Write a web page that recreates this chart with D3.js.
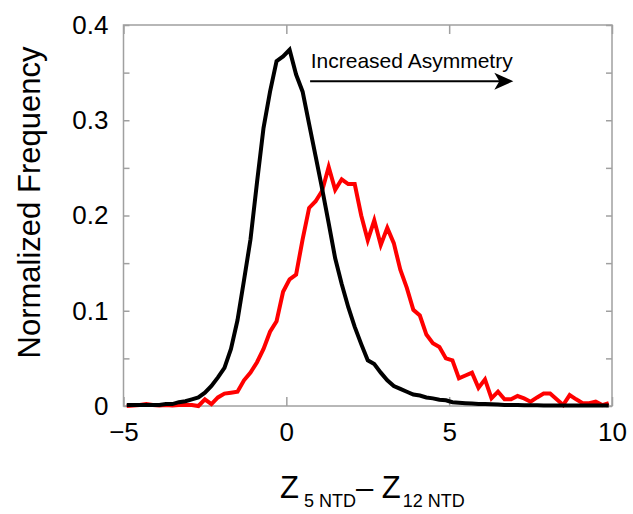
<!DOCTYPE html>
<html>
<head>
<meta charset="utf-8">
<script src="https://cdn.jsdelivr.net/npm/d3@7"></script>
<style>
  html, body { margin: 0; padding: 0; background: #fff; }
  svg { display: block; font-family: "Liberation Sans", Arial, sans-serif; }
</style>
</head>
<body>
<svg id="chart" width="633" height="514"></svg>
<script>
// ---- data ----
const binCenters = [-4.9,-4.7,-4.5,-4.3,-4.1,-3.9,-3.7,-3.5,-3.3,-3.1,-2.9,-2.7,-2.5,-2.3,-2.1,-1.9,-1.7,-1.5,-1.3,-1.1,
  -0.9,-0.7,-0.5,-0.3,-0.1,0.1,0.3,0.5,0.7,0.9,1.1,1.3,1.5,1.7,1.9,2.1,2.3,2.5,2.7,2.9,
  3.1,3.3,3.5,3.7,3.9,4.1,4.3,4.5,4.7,4.9,5.1,5.3,5.5,5.7,5.9,6.1,6.3,6.5,6.7,6.9,
  7.1,7.3,7.5,7.7,7.9,8.1,8.3,8.5,8.7,8.9,9.1,9.3,9.5,9.7,9.9];
const blackSeries = [0.001,0.001,0.001,0.001,0.001,0.001,0.002,0.002,0.004,0.005,0.007,0.009,0.014,0.021,0.030,0.040,0.060,0.090,0.132,0.175,
  0.235,0.292,0.330,0.362,0.367,0.374,0.348,0.330,0.296,0.262,0.228,0.192,0.155,0.128,0.104,0.083,0.065,0.048,0.044,0.035,
  0.027,0.021,0.018,0.015,0.012,0.011,0.009,0.008,0.0065,0.006,0.004,0.0035,0.003,0.0025,0.002,0.002,0.0018,0.0015,0.001,0.001,
  0.001,0.0008,0.0008,0.0007,0.0006,0.0006,0.0005,0.0005,0.0005,0.0005,0.0005,0.0005,0.0005,0.0005,0.0005];
const redSeries = [0.000,0.0005,0.001,0.002,0.001,0.0005,0.001,0.0005,0.001,0.001,0.001,0.000,0.007,0.002,0.009,0.013,0.014,0.015,0.027,0.035,
  0.046,0.060,0.078,0.089,0.120,0.133,0.138,0.175,0.208,0.215,0.226,0.251,0.227,0.238,0.233,0.233,0.200,0.174,0.195,0.169,
  0.187,0.171,0.143,0.124,0.101,0.095,0.075,0.066,0.062,0.050,0.048,0.029,0.032,0.035,0.019,0.028,0.008,0.015,0.007,0.007,
  0.0105,0.008,0.0045,0.009,0.013,0.013,0.007,0.001,0.0115,0.007,0.003,0.003,0.0045,0.001,0.003];
const xTickValues = [-5, 0, 5, 10];
const xTickLabels = ["\u22125", "0", "5", "10"];
const yTickValues = [0, 0.05, 0.1, 0.15, 0.2, 0.25, 0.3, 0.35, 0.4];
const yTickLabels = ["0", "", "0.1", "", "0.2", "", "0.3", "", "0.4"];
const annotationText = "Increased Asymmetry";
const annotationArrow = [0.73, 6.97, 0.341]; // x start, x end, y (data units)
const annotationTextPos = [0.75, 0.355];

// ---- layout ----
const svg = d3.select("#chart");
const margin = {left: 123.5, right: 21, top: 25, bottom: 108};
const W = 633, H = 514;
const x = d3.scaleLinear().domain([-5, 10]).range([margin.left, W - margin.right]);
const y = d3.scaleLinear().domain([0, 0.4]).range([H - margin.bottom, margin.top]);
const axisColor = "#a0a0a0";
const fontTick = 26;

// frame
svg.append("rect")
  .attr("x", x(-5)).attr("y", y(0.4))
  .attr("width", x(10) - x(-5)).attr("height", y(0) - y(0.4))
  .attr("fill", "none").attr("stroke", axisColor).attr("stroke-width", 1.5);

function styleAxis(g) {
  g.select(".domain").remove();
  g.selectAll(".tick line").attr("stroke", axisColor).attr("stroke-width", 1.5);
  g.selectAll(".tick text").attr("fill", "#000").attr("font-size", fontTick)
    .attr("font-family", "'Liberation Sans', Arial, sans-serif");
}

// bottom axis
svg.append("g").attr("transform", `translate(0,${y(0)})`)
  .call(d3.axisBottom(x).tickValues(xTickValues).tickSizeInner(-9).tickSizeOuter(0).tickPadding(17)
    .tickFormat((d, i) => xTickLabels[i]))
  .call(styleAxis);
// top axis (ticks only)
svg.append("g").attr("transform", `translate(0,${y(0.4)})`)
  .call(d3.axisTop(x).tickValues(xTickValues).tickSizeInner(-9).tickSizeOuter(0).tickFormat(""))
  .call(styleAxis);
// left axis
svg.append("g").attr("transform", `translate(${x(-5)},0)`)
  .call(d3.axisLeft(y).tickValues(yTickValues).tickSizeInner(-6).tickSizeOuter(0).tickPadding(15)
    .tickFormat((d, i) => yTickLabels[i]))
  .call(styleAxis);
// right axis (ticks only)
svg.append("g").attr("transform", `translate(${x(10)},0)`)
  .call(d3.axisRight(y).tickValues(yTickValues).tickSizeInner(-6).tickSizeOuter(0).tickFormat(""))
  .call(styleAxis);

// lines
const line = d3.line().x(d => x(d[0])).y(d => y(d[1]));
svg.append("path")
  .datum(binCenters.map((c, i) => [c, redSeries[i]]))
  .attr("d", line).attr("fill", "none").attr("stroke", "#ff0000").attr("stroke-width", 4);
svg.append("path")
  .datum(binCenters.map((c, i) => [c, blackSeries[i]]))
  .attr("d", line).attr("fill", "none").attr("stroke", "#000").attr("stroke-width", 4);

// annotation
const ay = y(annotationArrow[2]);
const ax0 = x(annotationArrow[0]), ax1 = x(annotationArrow[1]);
svg.append("line").attr("x1", ax0).attr("x2", ax1 - 12).attr("y1", ay).attr("y2", ay)
  .attr("stroke", "#000").attr("stroke-width", 2);
svg.append("path")
  .attr("d", `M${ax1},${ay} L${ax1 - 19},${ay - 8.5} L${ax1 - 14},${ay} L${ax1 - 19},${ay + 8.5} Z`)
  .attr("fill", "#000");
svg.append("text").attr("x", x(annotationTextPos[0])).attr("y", y(annotationTextPos[1]))
  .attr("font-size", 21).attr("fill", "#000").text(annotationText);

// axis titles
svg.append("text")
  .attr("transform", `translate(40,${(y(0) + y(0.4)) / 2 - 13}) rotate(-90)`)
  .attr("text-anchor", "middle").attr("font-size", 31).attr("fill", "#000")
  .text("Normalized Frequency");

const xt = svg.append("text")
  .attr("x", 280).attr("y", 498)
  .attr("text-anchor", "start").attr("font-size", 31).attr("fill", "#000");
xt.append("tspan").text("Z");
xt.append("tspan").attr("font-size", 18).attr("dy", 9).attr("dx", 5).text("5 NTD");
xt.append("tspan").attr("dy", -9).text("\u2013 Z");
xt.append("tspan").attr("font-size", 18).attr("dy", 9).attr("dx", 2).text("12 NTD");
</script>
</body>
</html>
